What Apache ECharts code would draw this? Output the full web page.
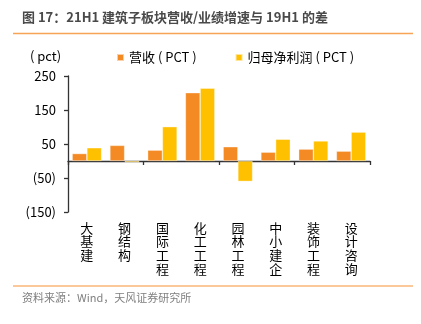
<!DOCTYPE html>
<html>
<head>
<meta charset="utf-8">
<script src="https://cdn.jsdelivr.net/npm/echarts@6/dist/echarts.min.js"></script>
<style>
  html, body { margin: 0; padding: 0; background: #fff; }
  #chart { width: 421px; height: 324px; }
</style>
</head>
<body>
<div id="chart"></div>
<script>
// Sub-sector names and the two growth-rate differences (pct points)
const categories = ['大基建', '钢结构', '国际工程', '化工工程', '园林工程', '中小建企', '装饰工程', '设计咨询'];
const revenueDiff = [22, 46, 32, 201, 42, 26, 35, 29];
const profitDiff = [39, -4, 101, 214, -60, 64, 59, 85];
const seriesNames = ['营收 ( PCT )', '归母净利润 ( PCT )'];
const yTicks = { min: -150, max: 250, interval: 100 };

const FONT = '"Noto Sans CJK SC", "Noto Sans", sans-serif';
const chart = echarts.init(document.getElementById('chart'), null, { renderer: 'canvas' });

const fmtY = v => (v < 0 ? '(' + Math.abs(v) + ')' : String(v));

chart.setOption({
  animation: false,
  backgroundColor: '#ffffff',
  textStyle: { fontFamily: FONT },
  grid: { left: 68, right: 51, top: 76, bottom: 112, containLabel: false },
  legend: {
    left: 116, top: 51, padding: 0,
    itemWidth: 7, itemHeight: 7, itemGap: 38,
    icon: 'rect',
    textStyle: { fontSize: 13, color: '#000', fontFamily: FONT },
    data: seriesNames
  },
  xAxis: [
    {
      type: 'category',
      data: categories,
      axisLine: { onZero: true, lineStyle: { color: '#333', width: 1.3 } },
      axisTick: { show: true, inside: false, length: 4, lineStyle: { color: '#333', width: 1.3 } },
      axisLabel: { show: false },
      splitLine: { show: false }
    },
    {
      type: 'category',
      data: categories,
      position: 'bottom',
      axisLine: { show: false },
      axisTick: { show: false },
      axisLabel: {
        margin: 9,
        fontSize: 13,
        color: '#000',
        lineHeight: 13.7,
        fontFamily: FONT,
        formatter: v => v.split('').join('\n'),
        verticalAlign: 'top'
      }
    }
  ],
  yAxis: {
    type: 'value',
    min: yTicks.min, max: yTicks.max, interval: yTicks.interval,
    axisLine: { show: true, lineStyle: { color: '#333', width: 1.3 } },
    axisTick: { show: true, inside: false, length: 4, lineStyle: { color: '#333', width: 1.3 } },
    axisLabel: { fontSize: 13, color: '#000', margin: 12, formatter: fmtY, fontFamily: FONT },
    splitLine: { show: false }
  },
  series: [
    {
      name: seriesNames[0], type: 'bar', xAxisIndex: 0, data: revenueDiff,
      barGap: '0%', barCategoryGap: '22%',
      itemStyle: { color: '#F38A24', borderColor: 'rgba(255,255,255,0.6)', borderWidth: 0.6 }
    },
    {
      name: seriesNames[1], type: 'bar', xAxisIndex: 0, data: profitDiff,
      barGap: '0%', barCategoryGap: '22%',
      itemStyle: { color: '#FFC000', borderColor: 'rgba(255,255,255,0.6)', borderWidth: 0.6 }
    }
  ],
  graphic: [
    {
      type: 'text', left: 22, top: 11,
      style: { text: '图 17：21H1 建筑子板块营收/业绩增速与 19H1 的差', font: 'bold 13px ' + FONT, fill: '#4a4a4a' }
    },
    { type: 'line', shape: { x1: 13, y1: 33.5, x2: 413, y2: 33.5 }, style: { stroke: '#F7A456', lineWidth: 1.5 } },
    {
      type: 'text', left: 30, top: 50,
      style: { text: '( pct)', font: '13px ' + FONT, fill: '#000' }
    },
    { type: 'line', shape: { x1: 13, y1: 286, x2: 413, y2: 286 }, style: { stroke: '#FBC899', lineWidth: 2 } },
    {
      type: 'text', left: 22, top: 292,
      style: { text: '资料来源：Wind，天风证券研究所', font: '11px ' + FONT, fill: '#7f7f7f' }
    }
  ]
});
</script>
</body>
</html>
